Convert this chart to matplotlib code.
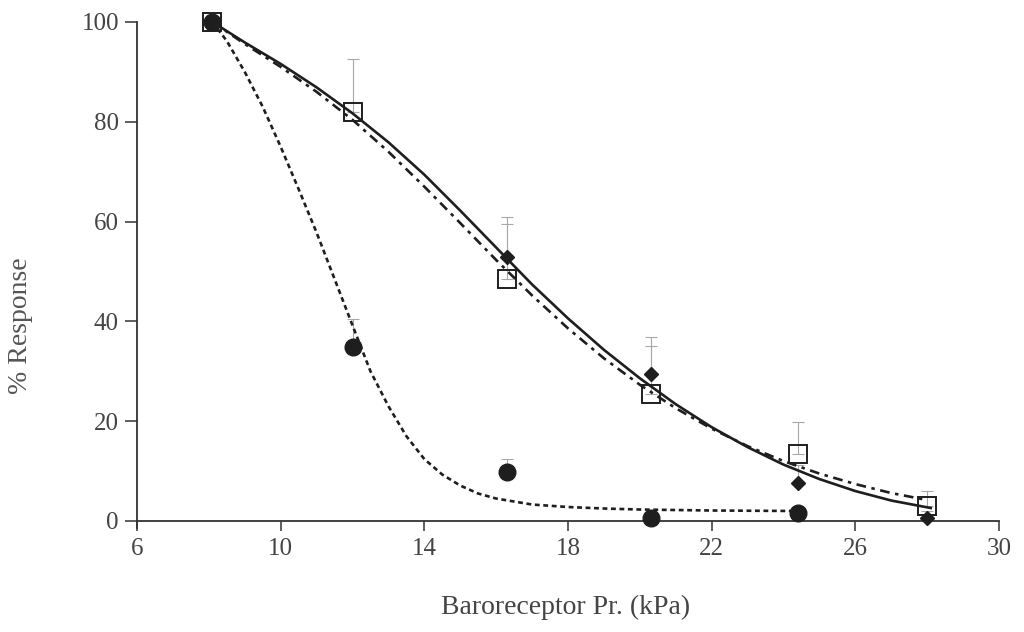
import matplotlib.pyplot as plt
import numpy as np

plt.rcParams['font.family'] = ['Liberation Serif', 'DejaVu Serif']
plt.rcParams['lines.scale_dashes'] = False

# pressure steps (kPa) and mean % response for the three groups
pressure = [8.1, 12.0, 16.3, 20.3, 24.4, 28.0]
open_sq = [100, 82, 48.5, 25.5, 13.5, 3.0]
open_sq_err = [0, 10.5, 12.5, 11.3, 6.3, 3.0]
diamond = [100, np.nan, 53, 29.5, 7.7, 0.6]
diamond_err = [0, 0, 6.6, 5.6, 3.5, 1.5]
circ_pressure = [8.1, 12.0, 16.3, 20.3, 24.4]
circle = [100, 34.8, 9.8, 0.6, 1.6]
circle_err = [0, 5.6, 2.6, 0, 0]

# fitted curves, sampled along their length
solid_x = [8.1, 9, 10, 11, 12, 13, 14, 15, 16, 17, 18, 19, 20, 21, 22, 23,
           24, 25, 26, 27, 28.1]
solid_y = [100, 95.9, 91.6, 86.9, 81.7, 75.9, 69.4, 62.2, 54.8, 47.4, 40.6,
           34.3, 28.6, 23.4, 18.8, 14.8, 11.3, 8.4, 6.0, 4.1, 2.6]
dashdot_x = [8.1, 9, 10, 11, 12, 13, 14, 15, 16, 17, 18, 19, 20, 21, 22, 23,
             24, 25, 26, 27, 28]
dashdot_y = [100, 95.6, 91.0, 86.0, 80.4, 74.0, 67.0, 59.7, 52.3, 45.2, 38.6,
             32.6, 27.3, 22.6, 18.5, 15.0, 12.0, 9.5, 7.4, 5.6, 4.2]
dash_x = [8.1, 8.5, 9.0, 9.5, 10.0, 10.5, 11.0, 11.5, 12.0, 12.5, 13.0, 13.5,
          14.0, 14.5, 15.0, 15.5, 16.0, 17.0, 18.0, 19.0, 20.0, 22.0, 24.4]
dash_y = [100, 96.2, 90.0, 83.0, 75.0, 66.5, 57.8, 48.5, 39.2, 30.0, 23.0,
          17.0, 12.4, 9.3, 7.1, 5.5, 4.5, 3.3, 2.8, 2.5, 2.3, 2.1, 2.0]

fig = plt.figure(figsize=(10.24, 6.32), dpi=100)
ax = fig.add_axes([0.1338, 0.1638, 0.8418, 0.8014])

ink = '#1e1e1e'
ax.plot(solid_x, solid_y, color=ink, lw=1.9, zorder=2)
ax.plot(dashdot_x, dashdot_y, color=ink, lw=1.9, dashes=(7, 4, 2.5, 4), zorder=2)
ax.plot(dash_x, dash_y, color=ink, lw=1.9, dashes=(3.5, 2.6), zorder=2)

bar_style = dict(fmt='none', ecolor='#a8a8a8', elinewidth=0.8, capsize=4,
                 capthick=0.8, zorder=1)
ax.errorbar(pressure, open_sq, yerr=[np.zeros(len(open_sq)), open_sq_err], **bar_style)
ax.errorbar(pressure, diamond, yerr=[np.zeros(len(diamond)), diamond_err], **bar_style)
ax.errorbar(circ_pressure, circle, yerr=[np.zeros(len(circle)), circle_err], **bar_style)

ax.plot(circ_pressure, circle, 'o', ms=12, mfc=ink, mec=ink, ls='none',
        zorder=3, clip_on=False)
ax.plot(pressure, diamond, 'D', ms=7.5, mfc=ink, mec=ink, ls='none',
        zorder=3, clip_on=False)
ax.plot(pressure, open_sq, 's', ms=13, mfc='none', mec=ink, mew=1.4, ls='none',
        zorder=4, clip_on=False)

ax.set_xlim(6, 30)
ax.set_ylim(-1.5, 100)
ax.set_xticks([6, 10, 14, 18, 22, 26, 30])
ax.set_yticks([0, 20, 40, 60, 80, 100])

for side in ('top', 'right'):
    ax.spines[side].set_visible(False)
ax.spines['bottom'].set_position(('data', 0))
for side in ('bottom', 'left'):
    ax.spines[side].set_color('#333333')
    ax.spines[side].set_linewidth(1.3)

ax.tick_params(axis='x', direction='out', length=7.5, width=1.1, color='#333333',
               labelsize=18, labelcolor='#444444', pad=5)
ax.tick_params(axis='y', direction='out', length=9, width=1.1, color='#333333',
               labelsize=18, labelcolor='#444444', pad=4)

ax.set_xlabel('Baroreceptor Pr. (kPa)', fontsize=20, color='#444444', va='center')
ax.xaxis.set_label_coords(0.497, -0.155)
ax.set_ylabel('% Response', fontsize=20, color='#555555', va='center')
ax.yaxis.set_label_coords(-0.135, 0.40)

fig.savefig('out.png', dpi=100)
